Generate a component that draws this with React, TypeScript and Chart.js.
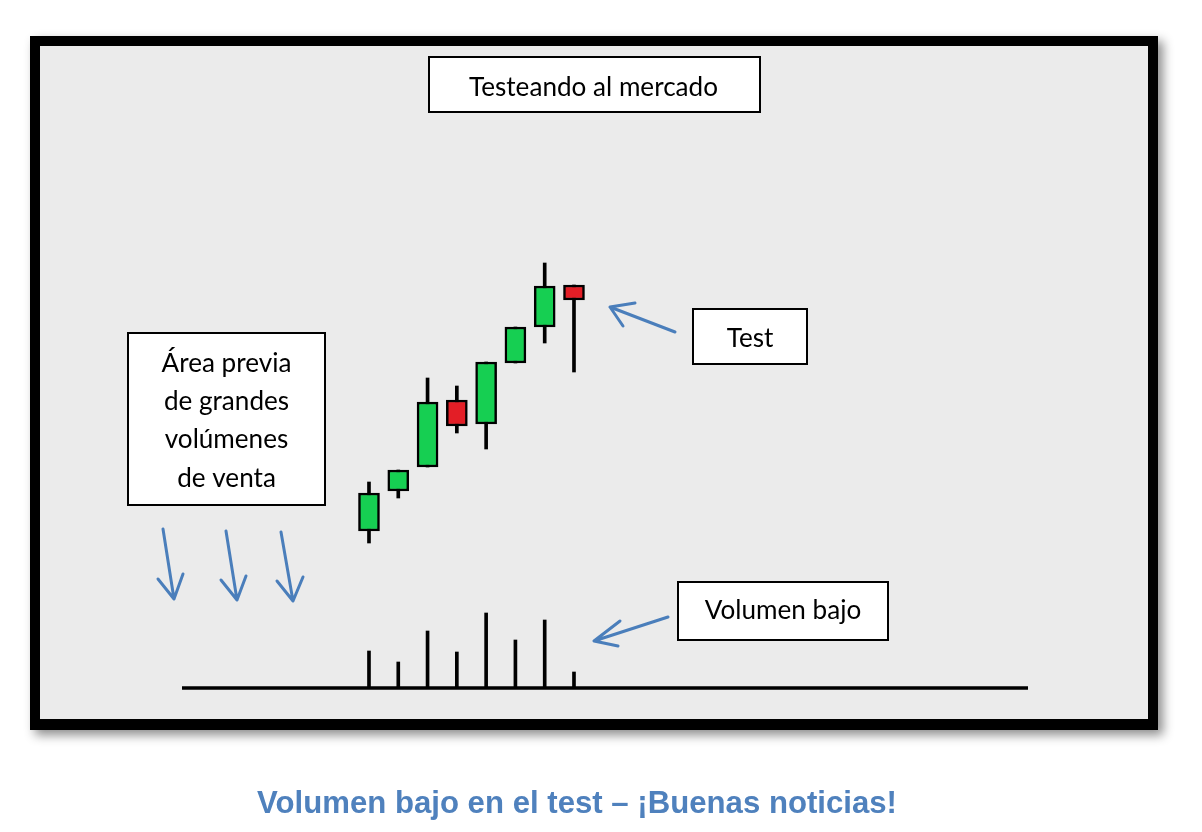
import React, { useEffect, useRef } from 'react';
import { Chart, registerables } from 'chart.js';

Chart.register(...registerables);

// ---- Data (price units are arbitrary chart points) ----
const candleIndex = [1, 2, 3, 4, 5, 6, 7, 8];
const opens = [69, 109, 133, 200, 176, 237, 273, 315];
const closes = [107, 130, 198, 174, 238, 273, 314, 300];
const highs = [118, 130, 222, 214, 238, 273, 337, 315];
const lows = [57, 102, 133, 167, 151, 237, 257, 228];
const volumes = [37, 26, 57, 36, 75, 48, 68, 16];

const titleText = 'Testeando al mercado';
const testLabel = 'Test';
const volumeLabel = 'Volumen bajo';
const areaLines = ['Área previa', 'de grandes', 'volúmenes', 'de venta'];
const caption = 'Volumen bajo en el test – ¡Buenas noticias!';

const GREEN = '#16cf52';
const RED = '#e31e26';
const BLUE = '#4a7ebb';
const BOX_FONT = '"Lato", "Open Sans", sans-serif';

function drawArrow(ctx: CanvasRenderingContext2D, tail: number[], tip: number[], w1: number[], w2: number[]) {
  ctx.save();
  ctx.strokeStyle = BLUE;
  ctx.lineWidth = 3;
  ctx.lineCap = 'round';
  ctx.lineJoin = 'round';
  ctx.beginPath();
  ctx.moveTo(tail[0], tail[1]);
  ctx.lineTo(tip[0], tip[1]);
  ctx.moveTo(w1[0], w1[1]);
  ctx.lineTo(tip[0], tip[1]);
  ctx.lineTo(w2[0], w2[1]);
  ctx.stroke();
  ctx.restore();
}

function drawBox(ctx: CanvasRenderingContext2D, x1: number, y1: number, x2: number, y2: number) {
  ctx.save();
  ctx.fillStyle = '#ffffff';
  ctx.fillRect(x1, y1, x2 - x1, y2 - y1);
  ctx.strokeStyle = '#000000';
  ctx.lineWidth = 2;
  ctx.strokeRect(x1 + 1, y1 + 1, x2 - x1 - 2, y2 - y1 - 2);
  ctx.restore();
}

const decorPlugin = {
  id: 'decor',
  beforeDraw(chart: any) {
    const ctx: CanvasRenderingContext2D = chart.ctx;
    ctx.save();
    ctx.fillStyle = '#ffffff';
    ctx.fillRect(0, 0, chart.width, chart.height);
    ctx.shadowColor = 'rgba(0,0,0,0.45)';
    ctx.shadowBlur = 10;
    ctx.shadowOffsetX = 5;
    ctx.shadowOffsetY = 5;
    ctx.fillStyle = '#000000';
    ctx.fillRect(30, 36, 1128, 694);
    ctx.shadowColor = 'transparent';
    ctx.shadowBlur = 0;
    ctx.shadowOffsetX = 0;
    ctx.shadowOffsetY = 0;
    ctx.fillStyle = '#ebebeb';
    ctx.fillRect(40, 46, 1108, 673);
    ctx.restore();
  },
  afterDatasetsDraw(chart: any) {
    const ctx: CanvasRenderingContext2D = chart.ctx;
    const area = chart.chartArea;
    const y0 = chart.scales.yv.getPixelForValue(0);
    ctx.save();
    ctx.strokeStyle = '#000000';
    ctx.lineWidth = 3.5;
    ctx.beginPath();
    ctx.moveTo(area.left, y0);
    ctx.lineTo(area.right, y0);
    ctx.stroke();
    ctx.restore();
  },
  afterDraw(chart: any) {
    const ctx: CanvasRenderingContext2D = chart.ctx;
    // boxes
    drawBox(ctx, 428, 56, 761, 113);
    drawBox(ctx, 692, 308, 808, 365);
    drawBox(ctx, 677, 581, 889, 641);
    drawBox(ctx, 127, 332, 326, 506);

    // text (horizontal scale chosen so the title width matches)
    const size = 26.5;
    ctx.save();
    ctx.font = `${size}px ${BOX_FONT}`;
    const sx = 249 / ctx.measureText(titleText).width;
    ctx.restore();
    const txt = (s: string, cx: number, base: number) => {
      ctx.save();
      ctx.font = `${size}px ${BOX_FONT}`;
      ctx.fillStyle = '#000000';
      ctx.textAlign = 'center';
      ctx.textBaseline = 'alphabetic';
      ctx.translate(cx, base);
      ctx.scale(sx, 1);
      ctx.fillText(s, 0, 0);
      ctx.restore();
    };
    txt(titleText, 593.5, 96);
    txt(testLabel, 750, 347);
    txt(volumeLabel, 783, 619);
    const bases = [372, 410, 448, 487];
    areaLines.forEach((l, i) => txt(l, 226.5, bases[i]));

    // arrows
    drawArrow(ctx, [675, 332], [610, 307], [635, 303], [623, 326]);
    drawArrow(ctx, [668, 617], [594, 641], [620, 621], [618, 646]);
    drawArrow(ctx, [163, 529], [174, 599], [158, 579], [183, 574]);
    drawArrow(ctx, [226, 531], [237, 600], [221, 580], [246, 576]);
    drawArrow(ctx, [281, 532], [293, 601], [277, 581], [303, 577]);

    // caption
    ctx.save();
    ctx.font = 'bold 30.5px "Liberation Sans", Arial, sans-serif';
    const csx = 640 / ctx.measureText(caption).width;
    ctx.fillStyle = '#4f81bd';
    ctx.textAlign = 'center';
    ctx.textBaseline = 'alphabetic';
    ctx.translate(577, 813);
    ctx.scale(csx, 1);
    ctx.fillText(caption, 0, 0);
    ctx.restore();
  },
};

export default function App() {
  const canvasRef = useRef<HTMLCanvasElement | null>(null);

  useEffect(() => {
    if (!canvasRef.current) return;
    const bodies = candleIndex.map((x, i) => ({ x, y: [opens[i], closes[i]] }));
    const wicks = candleIndex.map((x, i) => ({ x, y: [lows[i], highs[i]] }));
    const vols = candleIndex.map((x, i) => ({ x, y: volumes[i] }));
    const colors = candleIndex.map((_, i) => (closes[i] >= opens[i] ? GREEN : RED));

    const chart = new Chart(canvasRef.current, {
      type: 'bar',
      data: {
        datasets: [
          {
            label: 'Cuerpo',
            data: bodies as any,
            backgroundColor: colors,
            borderColor: '#000000',
            borderWidth: 2.5,
            borderSkipped: false,
            barThickness: 21,
            grouped: false,
            order: 1,
            yAxisID: 'y',
          } as any,
          {
            label: 'Mecha',
            data: wicks as any,
            backgroundColor: '#000000',
            borderWidth: 0,
            barThickness: 3,
            grouped: false,
            order: 2,
            yAxisID: 'y',
          } as any,
          {
            label: 'Volumen',
            data: vols as any,
            backgroundColor: '#000000',
            borderWidth: 0,
            barThickness: 3,
            grouped: false,
            order: 3,
            yAxisID: 'yv',
          } as any,
        ],
      },
      options: {
        animation: false,
        responsive: false,
        events: [],
        layout: { padding: { left: 182, right: 174, top: 60, bottom: 144 } },
        plugins: {
          legend: { display: false },
          tooltip: { enabled: false },
          title: { display: false },
        },
        scales: {
          x: { type: 'linear', min: -5.385, max: 23.503, offset: false, display: false, grid: { offset: false } },
          y: { type: 'linear', min: -88, max: 540, display: false },
          yv: { type: 'linear', min: 0, max: 628, display: false, position: 'right' },
        },
      } as any,
      plugins: [decorPlugin],
    });
    return () => chart.destroy();
  }, []);

  return (
    <div style={{ position: 'absolute', left: 0, top: 0, width: 1202, height: 832 }}>
      <canvas ref={canvasRef} width={1202} height={832} style={{ display: 'block' }} />
    </div>
  );
}
